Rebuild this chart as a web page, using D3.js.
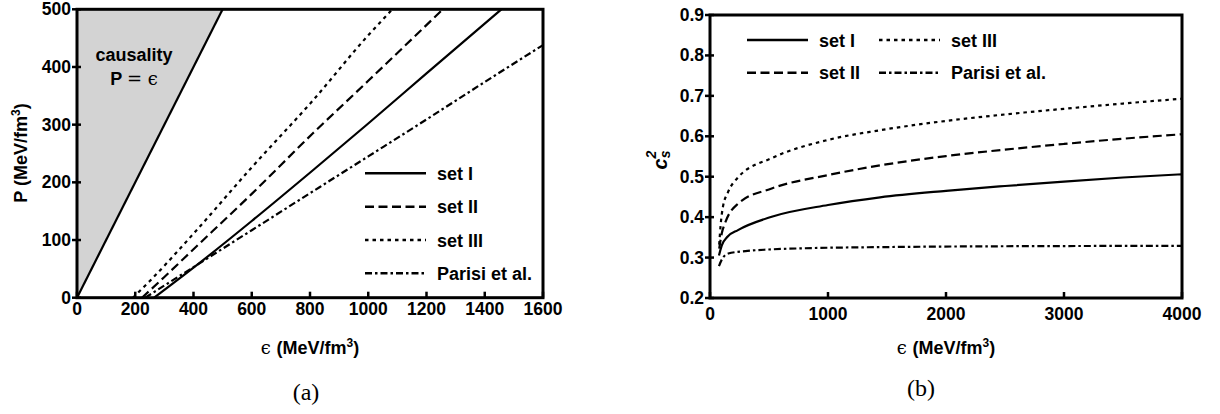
<!DOCTYPE html>
<html>
<head>
<meta charset="utf-8">
<script src="https://cdn.jsdelivr.net/npm/d3@7"></script>
<style>
  body { margin: 0; background: #fff; }
  svg { display: block; font-family: "Liberation Sans", Arial, sans-serif; font-weight: bold; }
</style>
</head>
<body>
<div class="chart"></div>
<script>
// panel (a): P vs eps
const epsTicksA = [0, 200, 400, 600, 800, 1000, 1200, 1400, 1600];
const pTicks = [0, 100, 200, 300, 400, 500];
const setIa = [[265, 0], [400, 52], [600, 133], [810, 221], [1000, 302], [1200, 389], [1457, 500]];
const setIIa = [[223, 0], [300, 36], [400, 84], [600, 180], [810, 285], [1000, 376], [1256, 500]];
const setIIIa = [[192, 0], [250, 29], [400, 111], [600, 226], [810, 342], [1000, 455], [1083, 500]];
const parisiA = [[234, 0], [400, 53], [600, 117], [834, 192], [1000, 245], [1200, 309], [1400, 374], [1600, 438]];
const causality = [[0, 0], [500, 500]];

// panel (b): cs^2 vs eps
const epsTicksB = [0, 1000, 2000, 3000, 4000];
const csTicks = [0.2, 0.3, 0.4, 0.5, 0.6, 0.7, 0.8, 0.9];
const setIb = [[76, 0.305], [100, 0.33], [150, 0.352], [237, 0.368], [523, 0.401], [1000, 0.430], [1441, 0.449], [2000, 0.465], [2500, 0.477], [3000, 0.488], [3500, 0.498], [4000, 0.506]];
const setIIb = [[78, 0.322], [100, 0.36], [127, 0.385], [240, 0.434], [523, 0.471], [1000, 0.504], [1441, 0.528], [2000, 0.551], [2500, 0.567], [3000, 0.581], [3500, 0.594], [4000, 0.605]];
const setIIIb = [[78, 0.332], [90, 0.38], [110, 0.426], [150, 0.46], [240, 0.499], [523, 0.546], [1000, 0.591], [1441, 0.615], [2000, 0.638], [2500, 0.654], [3000, 0.668], [3500, 0.681], [4000, 0.693]];
const parisiB = [[76, 0.279], [100, 0.295], [155, 0.31], [300, 0.316], [500, 0.320], [800, 0.323], [1500, 0.326], [2500, 0.328], [4000, 0.329]];

const legendNames = ["set I", "set II", "set III", "Parisi et al."];
const dashes = [null, "9,4.5", "3.5,4", "7,3,2.5,3"];

const svg = d3.select(".chart")
  .append("svg")
  .attr("width", 1220)
  .attr("height", 414);

function epsTitle(g, x, y) {
  const t = g.append("text")
    .attr("x", x).attr("y", y)
    .attr("text-anchor", "middle")
    .style("font-size", "18px");
  t.append("tspan").style("font-family", "DejaVu Serif").style("font-weight", "normal").text("ϵ ");
  t.append("tspan").text("(MeV/fm");
  t.append("tspan").attr("dy", -7).style("font-size", "12px").text("3");
  t.append("tspan").attr("dy", 7).text(")");
}

function drawPanel(opt) {
  const x = d3.scaleLinear().domain(opt.xDomain).range([opt.left, opt.right]);
  const y = d3.scaleLinear().domain(opt.yDomain).range([opt.bottom, opt.top]);
  const g = svg.append("g");
  const line = d3.line().x(d => x(d[0])).y(d => y(d[1])).curve(d3.curveMonotoneX);

  if (opt.before) opt.before(g, x, y);

  opt.series.forEach((s, i) => {
    g.append("path")
      .datum(s)
      .attr("d", line)
      .attr("fill", "none")
      .attr("stroke", "#000")
      .attr("stroke-width", 2.2)
      .attr("stroke-dasharray", dashes[i]);
  });

  // frame
  g.append("rect")
    .attr("x", opt.left).attr("y", opt.top)
    .attr("width", opt.right - opt.left).attr("height", opt.bottom - opt.top)
    .attr("fill", "none").attr("stroke", "#000").attr("stroke-width", 3);

  // x ticks (inward)
  g.selectAll(null).data(opt.xTicks).join("line")
    .attr("x1", d => x(d)).attr("x2", d => x(d))
    .attr("y1", opt.bottom).attr("y2", opt.bottom - 6)
    .attr("stroke", "#000").attr("stroke-width", 2.5);
  g.selectAll(null).data(opt.xTicks).join("text")
    .attr("x", d => x(d)).attr("y", opt.bottom + opt.xLabelDy)
    .attr("text-anchor", "middle")
    .style("font-size", "17.5px")
    .text(opt.xFormat);

  // y ticks
  g.selectAll(null).data(opt.yTicks).join("line")
    .attr("x1", opt.left - 5).attr("x2", opt.left + 4)
    .attr("y1", d => y(d)).attr("y2", d => y(d))
    .attr("stroke", "#000").attr("stroke-width", 2.5);
  g.selectAll(null).data(opt.yTicks).join("text")
    .attr("x", opt.left - 6).attr("y", d => y(d) + 6)
    .attr("text-anchor", "end")
    .style("font-size", "17.5px")
    .text(opt.yFormat);

  // legend
  opt.legend.forEach((p, i) => {
    g.append("line")
      .attr("x1", p[0]).attr("x2", p[0] + 61)
      .attr("y1", p[1]).attr("y2", p[1])
      .attr("stroke", "#000").attr("stroke-width", 2.5)
      .attr("stroke-dasharray", dashes[i]);
    g.append("text")
      .attr("x", p[0] + 72).attr("y", p[1] + 6.5)
      .style("font-size", "18px")
      .text(legendNames[i]);
  });

  epsTitle(g, (opt.left + opt.right) / 2, 354);
  return g;
}

// panel (a)
const ga = drawPanel({
  left: 77, right: 543, top: 9.3, bottom: 297.7,
  xDomain: [0, 1600], yDomain: [0, 500],
  xTicks: epsTicksA, yTicks: pTicks,
  xFormat: d => d, yFormat: d => d,
  xLabelDy: 17,
  series: [setIa, setIIa, setIIIa, parisiA],
  legend: [[365, 173.3], [365, 206.7], [365, 240], [365, 273.3]],
  before: (g, x, y) => {
    g.append("path")
      .attr("d", d3.line()([[x(0), y(0)], [x(500), y(500)], [x(0), y(500)]]) + "Z")
      .attr("fill", "#d3d3d3");
    g.append("path")
      .datum(causality)
      .attr("d", d3.line().x(d => x(d[0])).y(d => y(d[1])))
      .attr("stroke", "#000").attr("stroke-width", 2.2).attr("fill", "none");
    g.append("text")
      .attr("x", 134).attr("y", 61)
      .attr("text-anchor", "middle")
      .style("font-size", "18px")
      .text("causality");
    const t = g.append("text")
      .attr("x", 134).attr("y", 85)
      .attr("text-anchor", "middle")
      .style("font-size", "18px");
    t.append("tspan").text("P ");
    t.append("tspan").style("font-weight", "normal").style("font-family", "DejaVu Serif").text("= ϵ");
  }
});

ga.append("text")
  .attr("transform", "translate(27,153) rotate(-90)")
  .attr("text-anchor", "middle")
  .style("font-size", "18px")
  .call(t => {
    t.append("tspan").text("P (MeV/fm");
    t.append("tspan").attr("dy", -7).style("font-size", "12px").text("3");
    t.append("tspan").attr("dy", 7).text(")");
  });

// panel (b)
const gb = drawPanel({
  left: 710, right: 1182, top: 15, bottom: 298,
  xDomain: [0, 4000], yDomain: [0.2, 0.9],
  xTicks: epsTicksB, yTicks: csTicks,
  xFormat: d => d, yFormat: d => d.toFixed(1),
  xLabelDy: 22,
  series: [setIb, setIIb, setIIIb, parisiB],
  legend: [[747, 40], [747, 72.7], [879, 40], [879, 72.7]]
});

gb.append("text")
  .attr("transform", "translate(667,160) rotate(-90)")
  .attr("text-anchor", "middle")
  .style("font-size", "20px")
  .style("font-style", "italic")
  .call(t => {
    t.append("tspan").text("c");
    t.append("tspan").attr("dy", 3).style("font-size", "14px").text("s");
    t.append("tspan").attr("dx", -8).attr("dy", -14).style("font-size", "14px").text("2");
  });

// sub-captions
svg.append("text")
  .attr("x", 306).attr("y", 400)
  .attr("text-anchor", "middle")
  .style("font-family", "Liberation Serif, Times New Roman, serif")
  .style("font-weight", "normal")
  .style("font-size", "24px")
  .text("(a)");
svg.append("text")
  .attr("x", 921).attr("y", 396)
  .attr("text-anchor", "middle")
  .style("font-family", "Liberation Serif, Times New Roman, serif")
  .style("font-weight", "normal")
  .style("font-size", "24px")
  .text("(b)");
</script>
</body>
</html>
